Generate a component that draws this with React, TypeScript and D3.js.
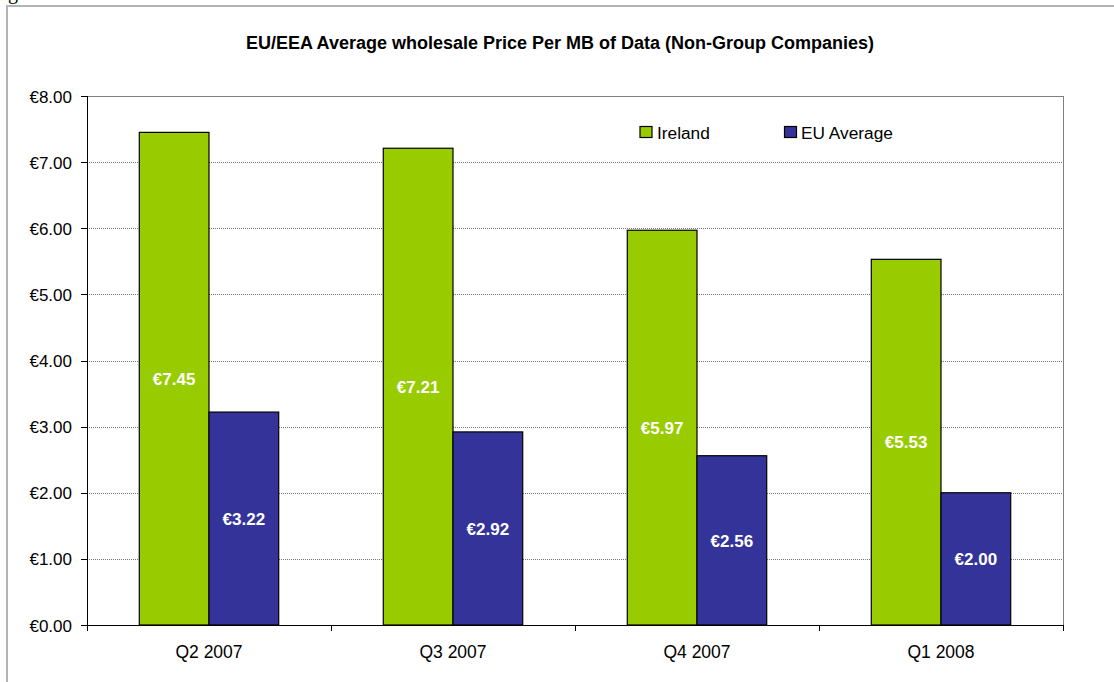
import React from "react";
import * as d3 from "d3";

const categories = ["Q2 2007", "Q3 2007", "Q4 2007", "Q1 2008"];
const seriesNames = ["Ireland", "EU Average"];
const irelandValues = [7.45, 7.21, 5.97, 5.53];
const euValues = [3.22, 2.92, 2.56, 2.0];
const yTicks = [0, 1, 2, 3, 4, 5, 6, 7, 8];
const colors = ["#99CC00", "#333399"];
const title = "EU/EEA Average wholesale Price Per MB of Data (Non-Group Companies)";

export default function App() {
  const W = 1114, H = 682;
  const left = 87, right = 1063, top = 96, bottom = 625;
  const x = d3.scaleBand<string>().domain(categories).range([left, right]).paddingInner(0).paddingOuter(0);
  const y = d3.scaleLinear().domain([0, 8]).range([bottom, top]);
  const fmt = (v: number) => "€" + v.toFixed(2);
  const series = [irelandValues, euValues];
  const bw = x.bandwidth();
  const barW = bw / (2 + 1.5);
  const font = "'Liberation Sans', Arial, sans-serif";

  return (
    <svg width={W} height={H} style={{ position: "absolute", left: 0, top: 0, display: "block" }} fontFamily={font}>
      <rect x={0} y={0} width={W} height={H} fill="#fff" />
      <text x={8} y={-1} fontFamily="'Liberation Serif', serif" fontSize={20} fill="#000">g</text>
      <rect x={7} y={6} width={W + 20} height={H + 20} fill="#fff" stroke="#b4b4b4" strokeWidth={2} />
      <text x={560} y={49} textAnchor="middle" fontWeight="bold" fontSize={18}>{title}</text>
      {/* gridlines */}
      {yTicks.filter(t => t > 0).map(t => (
        <line key={t} x1={left} x2={right} y1={Math.round(y(t)) + 0.5} y2={Math.round(y(t)) + 0.5}
          stroke={t === 8 ? "#808080" : "#777"} strokeDasharray={t === 8 ? undefined : "1,1"} strokeWidth={1} />
      ))}
      <line x1={right + 0.5} x2={right + 0.5} y1={top} y2={bottom} stroke="#808080" />
      {/* bars */}
      {categories.map((c, i) => {
        const x0 = (x(c) as number) + (bw - 2 * barW) / 2;
        return series.map((s, j) => (
          <g key={c + j}>
            <rect x={x0 + j * barW} y={y(s[i])} width={barW} height={bottom - y(s[i])}
              fill={colors[j]} stroke="#000" strokeWidth={1.2} />
            <text x={x0 + j * barW + barW / 2} y={(y(s[i]) + bottom) / 2 + 6.3} textAnchor="middle"
              fill="#fff" fontWeight="bold" fontSize={17}>{fmt(s[i])}</text>
          </g>
        ));
      })}
      {/* axes */}
      <line x1={left + 0.5} x2={left + 0.5} y1={top} y2={bottom} stroke="#000" />
      <line x1={left} x2={right + 1} y1={bottom + 0.5} y2={bottom + 0.5} stroke="#000" />
      {yTicks.map(t => (
        <g key={"yt" + t}>
          <line x1={left - 6} x2={left} y1={Math.round(y(t)) + 0.5} y2={Math.round(y(t)) + 0.5} stroke="#000" />
          <text x={72} y={y(t) + 6.5} textAnchor="end" fontSize={17}>{fmt(t)}</text>
        </g>
      ))}
      {[...categories.map(c => x(c) as number), right].map((v, i) => (
        <line key={"xt" + i} x1={Math.round(v) + 0.5} x2={Math.round(v) + 0.5} y1={bottom} y2={bottom + 6} stroke="#000" />
      ))}
      {categories.map(c => (
        <text key={"xl" + c} x={(x(c) as number) + bw / 2} y={658} textAnchor="middle" fontSize={17.5}>{c}</text>
      ))}
      {/* legend */}
      {seriesNames.map((n, j) => (
        <g key={n}>
          <rect x={640 + j * 144.5} y={126.5} width={12} height={11} fill={colors[j]} stroke="#000" strokeWidth={1.2} />
          <text x={657 + j * 144} y={139} fontSize={17.3}>{n}</text>
        </g>
      ))}
    </svg>
  );
}
